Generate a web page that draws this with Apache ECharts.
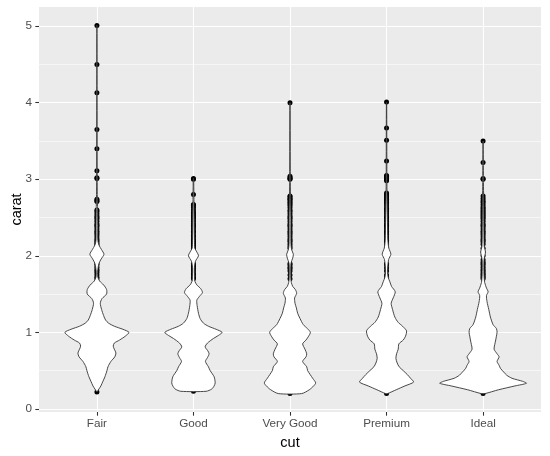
<!DOCTYPE html>
<html>
<head>
<meta charset="utf-8">
<script src="https://cdn.jsdelivr.net/npm/echarts@6/dist/echarts.min.js"></script>
<style>
html,body{margin:0;padding:0;background:#fff;}
#chart{width:550px;height:456px;}
</style>
</head>
<body>
<div id="chart"></div>
<script>
const cuts = ['Fair', 'Good', 'Very Good', 'Premium', 'Ideal'];
const yTicks = [0, 1, 2, 3, 4, 5];
const yMinorTicks = [0.5, 1.5, 2.5, 3.5, 4.5];
const xTicks = [0, 1, 2, 3, 4];

// violin outlines: [carat, half-width in category units]
const fairProfile = [[0.22,0],[0.26,0.021],[0.3,0.041],[0.36,0.062],[0.42,0.083],[0.5,0.104],[0.55,0.114],[0.62,0.145],[0.68,0.185],[0.73,0.197],[0.78,0.18],[0.82,0.169],[0.86,0.18],[0.9,0.235],[0.95,0.294],[1.0,0.332],[1.04,0.269],[1.08,0.18],[1.12,0.121],[1.16,0.09],[1.22,0.069],[1.3,0.048],[1.38,0.035],[1.44,0.052],[1.5,0.1],[1.56,0.1],[1.62,0.069],[1.67,0.028],[1.72,0.01],[1.8,0.008],[1.9,0.021],[1.96,0.045],[2.02,0.073],[2.08,0.048],[2.14,0.021],[2.2,0.01],[2.4,0.009],[2.6,0.007],[2.8,0.004],[3.0,0.003],[4.0,0.002],[5.01,0.001]];
const goodProfile = [[0.23,0.131],[0.26,0.19],[0.3,0.214],[0.34,0.225],[0.42,0.214],[0.5,0.173],[0.55,0.155],[0.62,0.124],[0.67,0.145],[0.72,0.162],[0.76,0.148],[0.81,0.121],[0.86,0.145],[0.92,0.207],[0.96,0.259],[1.0,0.297],[1.04,0.235],[1.08,0.155],[1.12,0.104],[1.18,0.069],[1.25,0.052],[1.35,0.038],[1.42,0.035],[1.47,0.062],[1.52,0.093],[1.57,0.076],[1.62,0.035],[1.67,0.014],[1.75,0.01],[1.85,0.01],[1.93,0.021],[2.0,0.052],[2.05,0.035],[2.1,0.014],[2.2,0.01],[2.5,0.007],[2.8,0.004],[3.01,0.002]];
const veryGoodProfile = [[0.2,0.121],[0.25,0.2],[0.3,0.245],[0.34,0.266],[0.4,0.235],[0.5,0.183],[0.55,0.173],[0.62,0.131],[0.68,0.166],[0.72,0.173],[0.78,0.155],[0.85,0.131],[0.9,0.166],[0.95,0.193],[1.0,0.211],[1.05,0.18],[1.1,0.138],[1.18,0.104],[1.25,0.079],[1.32,0.066],[1.38,0.052],[1.45,0.048],[1.51,0.069],[1.56,0.055],[1.6,0.028],[1.65,0.014],[1.7,0.009],[1.9,0.01],[1.97,0.028],[2.02,0.035],[2.08,0.017],[2.15,0.01],[2.5,0.009],[2.8,0.005],[3.0,0.0035],[4.0,0.0015]];
const premiumProfile = [[0.2,0.01],[0.25,0.1],[0.3,0.19],[0.35,0.28],[0.4,0.249],[0.45,0.214],[0.5,0.173],[0.55,0.131],[0.6,0.11],[0.66,0.097],[0.72,0.104],[0.78,0.121],[0.85,0.128],[0.9,0.173],[0.95,0.197],[1.02,0.207],[1.08,0.166],[1.13,0.121],[1.2,0.086],[1.3,0.062],[1.38,0.048],[1.45,0.069],[1.53,0.09],[1.6,0.052],[1.66,0.035],[1.72,0.017],[1.8,0.01],[1.95,0.021],[2.02,0.045],[2.1,0.024],[2.2,0.014],[2.5,0.009],[2.8,0.005],[3.0,0.0035],[4.01,0.0015]];
const idealProfile = [[0.2,0.02],[0.25,0.16],[0.3,0.33],[0.335,0.449],[0.36,0.41],[0.4,0.3],[0.44,0.245],[0.48,0.215],[0.53,0.18],[0.57,0.166],[0.62,0.145],[0.68,0.166],[0.72,0.145],[0.78,0.114],[0.84,0.121],[0.9,0.131],[0.95,0.138],[1.0,0.145],[1.05,0.138],[1.1,0.104],[1.2,0.076],[1.3,0.059],[1.4,0.041],[1.48,0.035],[1.53,0.052],[1.58,0.035],[1.65,0.017],[1.75,0.01],[1.95,0.01],[2.05,0.025],[2.12,0.012],[2.3,0.009],[2.6,0.007],[3.0,0.0035],[3.5,0.0015]];

// observed points (drawn beneath the violins)
const fairPoints = [0.22,1.7,1.72,1.75,1.78,1.8,1.82,1.85,1.88,1.9,2.1,2.12,2.14,2.16,2.18,2.2,2.22,2.25,2.28,2.3,2.32,2.35,2.38,2.4,2.42,2.45,2.48,2.5,2.52,2.55,2.58,2.6,2.71,2.72,2.74,3.01,3.02,3.11,3.4,3.65,4.13,4.5,5.01];
const goodPoints = [0.23,1.7,1.72,1.75,1.77,1.8,1.83,1.86,1.88,1.9,2.1,2.12,2.14,2.16,2.18,2.2,2.22,2.25,2.27,2.3,2.32,2.35,2.38,2.4,2.42,2.45,2.48,2.5,2.51,2.53,2.55,2.57,2.6,2.63,2.66,2.67,2.8,3.0,3.01];
const veryGoodPoints = [0.2,1.7,1.75,1.8,1.83,1.85,1.88,1.9,2.1,2.12,2.15,2.18,2.2,2.22,2.25,2.28,2.3,2.32,2.35,2.38,2.4,2.42,2.45,2.48,2.5,2.52,2.55,2.58,2.6,2.63,2.66,2.68,2.7,2.72,2.74,2.75,2.77,2.78,3.0,3.01,3.02,3.04,4.0];
const premiumPoints = [0.2,1.7,1.72,1.75,1.8,1.84,1.88,1.9,2.1,2.12,2.15,2.18,2.2,2.22,2.25,2.28,2.3,2.32,2.35,2.38,2.4,2.42,2.45,2.48,2.5,2.52,2.55,2.58,2.6,2.62,2.65,2.68,2.7,2.72,2.74,2.76,2.78,2.8,2.82,2.98,3.0,3.01,3.02,3.04,3.05,3.24,3.51,3.67,4.01];
const idealPoints = [0.2,1.7,1.72,1.74,1.76,1.78,1.8,1.82,1.85,1.88,1.9,1.92,1.95,2.0,2.05,2.1,2.15,2.18,2.2,2.22,2.25,2.28,2.3,2.32,2.35,2.38,2.4,2.42,2.45,2.48,2.5,2.52,2.54,2.56,2.58,2.6,2.62,2.64,2.67,2.7,2.72,2.75,2.78,3.0,3.01,3.22,3.5];

const profiles = [fairProfile, goodProfile, veryGoodProfile, premiumProfile, idealProfile];
const pointSets = [fairPoints, goodPoints, veryGoodPoints, premiumPoints, idealPoints];

const scatterData = [];
pointSets.forEach((pts, i) => pts.forEach(v => scatterData.push([i, v])));

const FONT = '"Liberation Sans", Arial, sans-serif';
const chart = echarts.init(document.getElementById('chart'), null, {renderer: 'canvas'});

chart.setOption({
  animation: false,
  backgroundColor: '#ffffff',
  grid: {left: 39, top: 7, width: 502, height: 405, show: true, backgroundColor: '#EBEBEB', borderWidth: 0,
    containLabel: false, outerBoundsMode: 'none'},
  xAxis: {
    type: 'value', min: -0.6, max: 4.6,
    name: 'cut', nameLocation: 'middle', nameGap: 23, nameMoveOverlap: false,
    nameTextStyle: {color: '#000', fontSize: 14.5, fontFamily: FONT},
    axisLine: {show: false, onZero: false},
    axisTick: {show: true, length: 3.7, customValues: xTicks, lineStyle: {color: '#333', width: 1.07}},
    axisLabel: {customValues: xTicks, margin: 6, color: '#4D4D4D', fontSize: 11.7, fontFamily: FONT,
      formatter: v => cuts[Math.round(v)]},
    splitLine: {show: true, lineStyle: {color: '#fff', width: 1.1}}
  },
  yAxis: [{
    type: 'value', min: -0.0405, max: 5.2505,
    name: 'carat', nameLocation: 'middle', nameGap: 15, nameRotate: 90, nameMoveOverlap: false,
    nameTextStyle: {color: '#000', fontSize: 14.5, fontFamily: FONT},
    axisLine: {show: false, onZero: false},
    axisTick: {show: true, length: 3.7, customValues: yTicks, lineStyle: {color: '#333', width: 1.07}},
    axisLabel: {customValues: yTicks, margin: 7, color: '#4D4D4D', fontSize: 11.7, fontFamily: FONT},
    splitLine: {show: true, lineStyle: {color: '#fff', width: 1.1}},
    z: 1
  }, {
    type: 'value', min: -0.0405, max: 5.2505, position: 'left',
    axisLine: {show: false, onZero: false},
    axisTick: {show: false, customValues: yMinorTicks},
    axisLabel: {show: false, customValues: yMinorTicks},
    splitLine: {show: true, lineStyle: {color: '#fff', width: 0.55}},
    z: 0
  }],
  series: [{
    type: 'scatter',
    yAxisIndex: 0,
    data: scatterData,
    symbolSize: 5,
    itemStyle: {color: '#000', opacity: 1},
    silent: true,
    z: 2
  }, {
    type: 'custom',
    yAxisIndex: 0,
    data: cuts.map((c, i) => [i, 0]),
    encode: {x: 0, y: 1},
    silent: true,
    z: 3,
    renderItem: (params, api) => {
      const i = params.dataIndex;
      const prof = profiles[i];
      const left = prof.map(p => api.coord([i - p[1], p[0]]));
      const right = prof.slice().reverse().map(p => api.coord([i + p[1], p[0]]));
      return {
        type: 'polygon',
        shape: {points: left.concat(right), smooth: 0.25},
        style: {fill: '#ffffff', stroke: '#333333', lineWidth: 0.9}
      };
    }
  }]
});
</script>
</body>
</html>
